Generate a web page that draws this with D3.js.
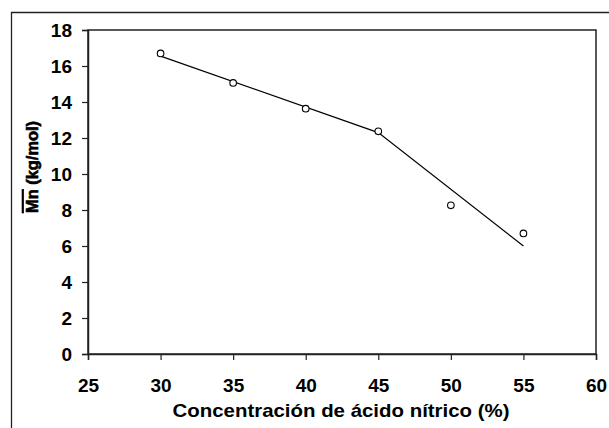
<!DOCTYPE html>
<html><head><meta charset="utf-8">
<script src="https://cdn.jsdelivr.net/npm/d3@7"></script>
<style>body{margin:0;background:#fff}svg{display:block}</style>
</head><body>
<script>
const xTicks = [25,30,35,40,45,50,55,60];
const yTicks = [0,2,4,6,8,10,12,14,16,18];
const pointX = [30,35,40,45,50,55];
const pointY = [16.7,15.06,13.63,12.37,8.26,6.70];
const fitX = [30,45,55];
const fitY = [16.55,12.3,6.0];

const W=609,H=428;
const svg=d3.select("body").append("svg").attr("width",W).attr("height",H);
const x=d3.scaleLinear().domain([25,60]).range([88,596]);
const y=d3.scaleLinear().domain([0,18]).range([354,30]);
const font="Liberation Sans, Arial, sans-serif";

// outer frame
svg.append("path").attr("d",`M11.5,${H} V12.5 H${W}`).attr("fill","none").attr("stroke","#222").attr("stroke-width",1.3);

// plot frame
svg.append("rect").attr("x",88).attr("y",30).attr("width",508).attr("height",324)
  .attr("fill","none").attr("stroke","#222").attr("stroke-width",1.5);

const xa=svg.append("g").attr("transform","translate(0,354)")
  .call(d3.axisBottom(x).tickValues(xTicks).tickSize(6).tickPadding(0).tickFormat(d3.format("d")));
const ya=svg.append("g").attr("transform","translate(88,0)")
  .call(d3.axisLeft(y).tickValues(yTicks).tickSize(6).tickPadding(0).tickFormat(d3.format("d")));
[xa,ya].forEach(a=>{
  a.select(".domain").attr("stroke","#222").attr("stroke-width",1.5);
  a.selectAll(".tick line").attr("stroke","#222").attr("stroke-width",1.2);
  a.selectAll(".tick text").attr("font-family",font).attr("font-size",19).attr("font-weight","bold").attr("fill","#000");
});
xa.selectAll(".tick text").attr("y",38).attr("dy",null);
ya.selectAll(".tick text").attr("x",-16).attr("dy","0.36em");

const line=d3.line().x(d=>x(d[0])).y(d=>y(d[1]));
svg.append("path").datum(fitX.map((v,i)=>[v,fitY[i]])).attr("d",line)
  .attr("fill","none").attr("stroke","#000").attr("stroke-width",1.2);

svg.selectAll("circle.p").data(pointX.map((v,i)=>[v,pointY[i]])).enter().append("circle")
  .attr("cx",d=>x(d[0])).attr("cy",d=>y(d[1])).attr("r",3.3)
  .attr("fill","#fff").attr("stroke","#000").attr("stroke-width",1.1);

svg.append("text").attr("x",341).attr("y",417).attr("text-anchor","middle")
  .attr("font-family",font).attr("font-size",18.5).attr("font-weight","bold")
  .attr("textLength",337).attr("lengthAdjust","spacingAndGlyphs")
  .text("Concentración de ácido nítrico (%)");

const yl=svg.append("text").attr("transform","translate(38,167) rotate(-90)")
  .attr("text-anchor","middle").attr("font-family",font).attr("font-size",17).attr("font-weight","bold")
  .attr("stroke","#000").attr("stroke-width",0.6)
  .attr("textLength",92).attr("lengthAdjust","spacingAndGlyphs");
yl.append("tspan").attr("text-decoration","overline").text("Mn");
yl.append("tspan").text(" (kg/mol)");
</script>
</body></html>
